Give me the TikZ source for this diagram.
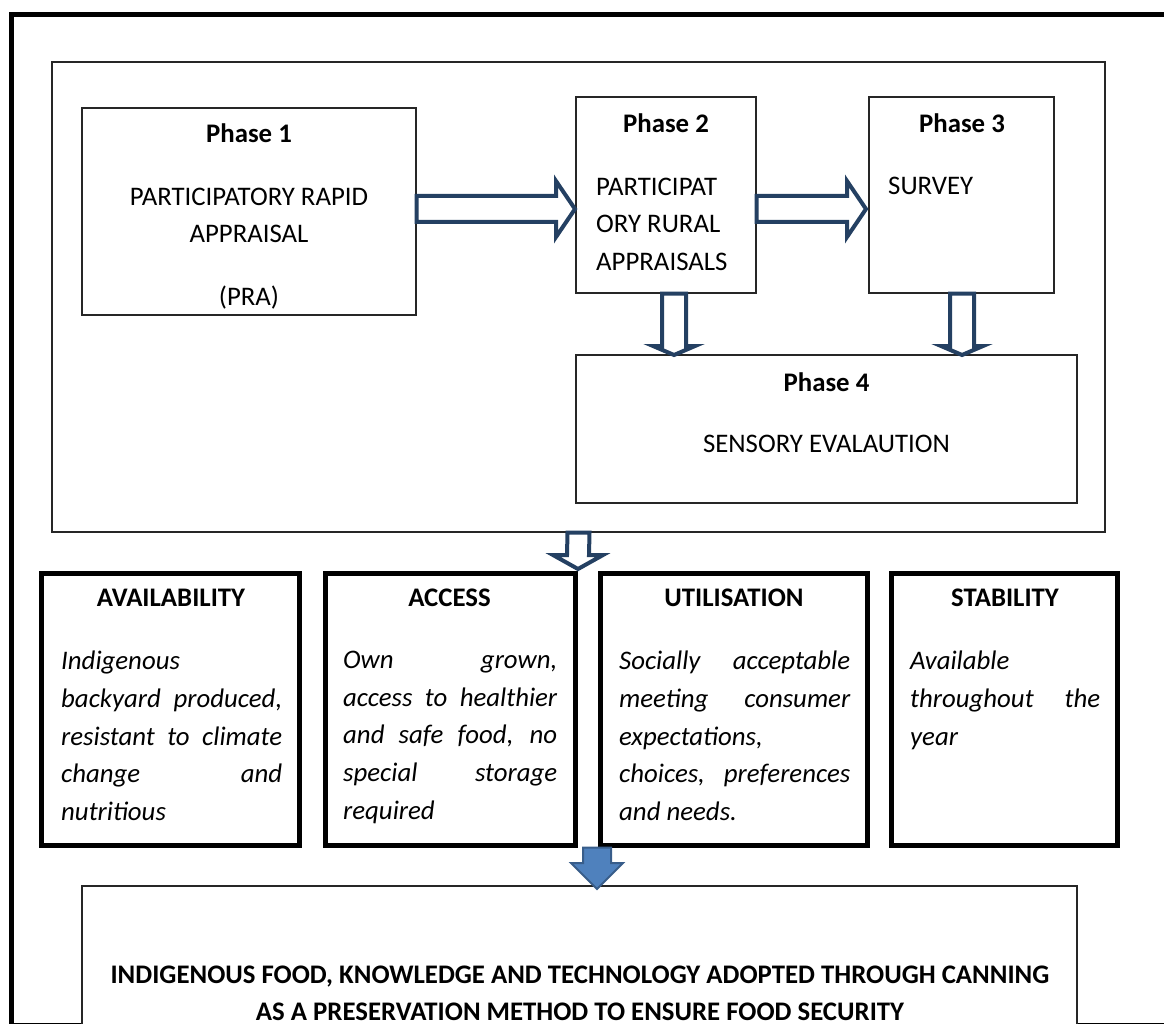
\documentclass[tikz,border=0pt]{standalone}
\usepackage{fontspec}
\setmainfont{Carlito}
\usetikzlibrary{calc}
\setlength{\parindent}{0pt}

\definecolor{arrowblue}{RGB}{36,64,98}
\definecolor{fillblue}{RGB}{79,129,189}
\definecolor{edgeblue}{RGB}{56,93,138}

\newcommand{\docsize}{\fontsize{26.8}{37.7}\selectfont}

% block arrow pointing right: style, start, tip, shaft half, head half, head length
\newcommand{\blockright}[6]{%
  \draw[#1] ($(#2)+(0,-#4)$) -- ($(#3)+(-#6,-#4)$) -- ($(#3)+(-#6,-#5)$) -- (#3)
    -- ($(#3)+(-#6,#5)$) -- ($(#3)+(-#6,#4)$) -- ($(#2)+(0,#4)$) -- cycle;}
% block arrow pointing down: style, start, tip, shaft half, head half, head length
\newcommand{\blockdown}[6]{%
  \draw[#1] ($(#2)+(-#4,0)$) -- ($(#3)+(-#4,-#6)$) -- ($(#3)+(-#5,-#6)$) -- (#3)
    -- ($(#3)+(#5,-#6)$) -- ($(#3)+(#4,-#6)$) -- ($(#2)+(#4,0)$) -- cycle;}

\begin{document}
\begin{tikzpicture}
  [x=1pt,y=-1pt,
   thinbox/.style={draw=black!85,line width=1.3,fill=white,inner sep=0},
   pillar/.style={draw=black,line width=5,fill=white,inner sep=0},
   phasehead/.style={font=\docsize\bfseries,inner sep=0,anchor=base},
   plain/.style={font=\docsize,inner sep=0},
   facts/.style={font=\docsize\itshape,inner sep=0,anchor=north west,align=justify},
   hollow/.style={draw=arrowblue,line width=4,fill=white,line join=miter},
   filledarrow/.style={draw=edgeblue,line width=2,fill=fillblue,line join=miter}]

  \clip (0,0) rectangle (1164,1024);
  \draw[line width=5] (11,15) rectangle (1185,1025);

  % phases
  \node[thinbox,minimum width=1053,minimum height=470] (frame) at (578.5,297) {};
  \node[thinbox,minimum width=334,minimum height=207] (p1) at (249,211.5) {};
  \node[thinbox,minimum width=180,minimum height=196] (p2) at (666,195) {};
  \node[thinbox,minimum width=185,minimum height=196] (p3) at (961.5,195) {};
  \node[thinbox,minimum width=501,minimum height=148] (p4) at (826.5,429) {};

  \node[phasehead] (p1h) at (249,142.5) {Phase 1};
  \node[phasehead] (p2h) at (666,132.5) {Phase 2};
  \node[phasehead] (p3h) at (962,132.5) {Phase 3};
  \node[phasehead] (p4h) at (826.5,391.5) {Phase 4};

  \node[plain,anchor=north,align=center] (p1t) at (249,187.5)
    {PARTICIPATORY RAPID\\APPRAISAL\\[25.5pt](PRA)};
  \node[plain,anchor=north west,align=left] (p2t) at (596,177.5)
    {PARTICIPAT\\ORY RURAL\\APPRAISALS};
  \node[plain,anchor=base west] (p3t) at (888,194.5) {SURVEY};
  \node[plain,anchor=base] (p4t) at (826.5,452.5) {SENSORY EVALAUTION};

  % food security pillars
  \node[pillar,minimum width=258,minimum height=272] (avl) at (170,709) {};
  \node[pillar,minimum width=250,minimum height=272] (acc) at (450,709) {};
  \node[pillar,minimum width=267,minimum height=272] (utl) at (733.5,709) {};
  \node[pillar,minimum width=226,minimum height=272] (stb) at (1004,709) {};

  \node[phasehead] (avlh) at (171,606.5) {AVAILABILITY};
  \node[phasehead] (acch) at (449.5,606.5) {ACCESS};
  \node[phasehead] (utlh) at (734,606.5) {UTILISATION};
  \node[phasehead] (stbh) at (1005,606.5) {STABILITY};

  \node[facts,text width=221] (avlt) at (61,651)
    {Indigenous\linebreak backyard produced,\linebreak resistant to climate\linebreak change and\linebreak nutritious};
  \node[facts,text width=214] (acct) at (343,651)
    {Own grown,\linebreak access to healthier\linebreak and safe food, no\linebreak special storage\linebreak required};
  \node[facts,text width=231] (utlt) at (619,651)
    {Socially acceptable\linebreak meeting consumer\linebreak expectations,\linebreak choices, preferences\linebreak and needs.};
  \node[facts,text width=190] (stbt) at (910,651)
    {Available\linebreak throughout the\linebreak year};

  % outcome
  \node[thinbox,minimum width=995,minimum height=150] (goal) at (579.5,961) {};
  \node[plain,font=\docsize\bfseries,anchor=north,align=center] (goalt) at (580,965.5)
    {INDIGENOUS FOOD, KNOWLEDGE AND TECHNOLOGY ADOPTED THROUGH CANNING\\
     AS A PRESERVATION METHOD TO ENSURE FOOD SECURITY};

  % arrows
  \coordinate (a1s) at (p1.east |- 0,209);
  \coordinate (a1t) at (575,209);
  \coordinate (a2s) at (p2.east |- 0,209);
  \coordinate (a2t) at (866,209);
  \coordinate (a3s) at (674,0 |- p2.south);
  \coordinate (a3t) at (674,355);
  \coordinate (a4s) at (962,0 |- p3.south);
  \coordinate (a4t) at (962,355);
  \coordinate (a5s) at (frame.south);
  \coordinate (a5t) at (578,569);
  \coordinate (a6s) at (597,0 |- acc.south);
  \coordinate (a6t) at (597,889);

  \blockright{hollow}{a1s}{a1t}{13}{28}{19}
  \blockright{hollow}{a2s}{a2t}{13}{28}{19}
  \blockdown{hollow}{a3s}{a3t}{12}{21}{9}
  \blockdown{hollow}{a4s}{a4t}{12}{21}{9}
  \blockdown{hollow}{a5s}{a5t}{11}{25}{14}
  \blockdown{filledarrow}{a6s}{a6t}{14}{26}{26}
\end{tikzpicture}
\end{document}
